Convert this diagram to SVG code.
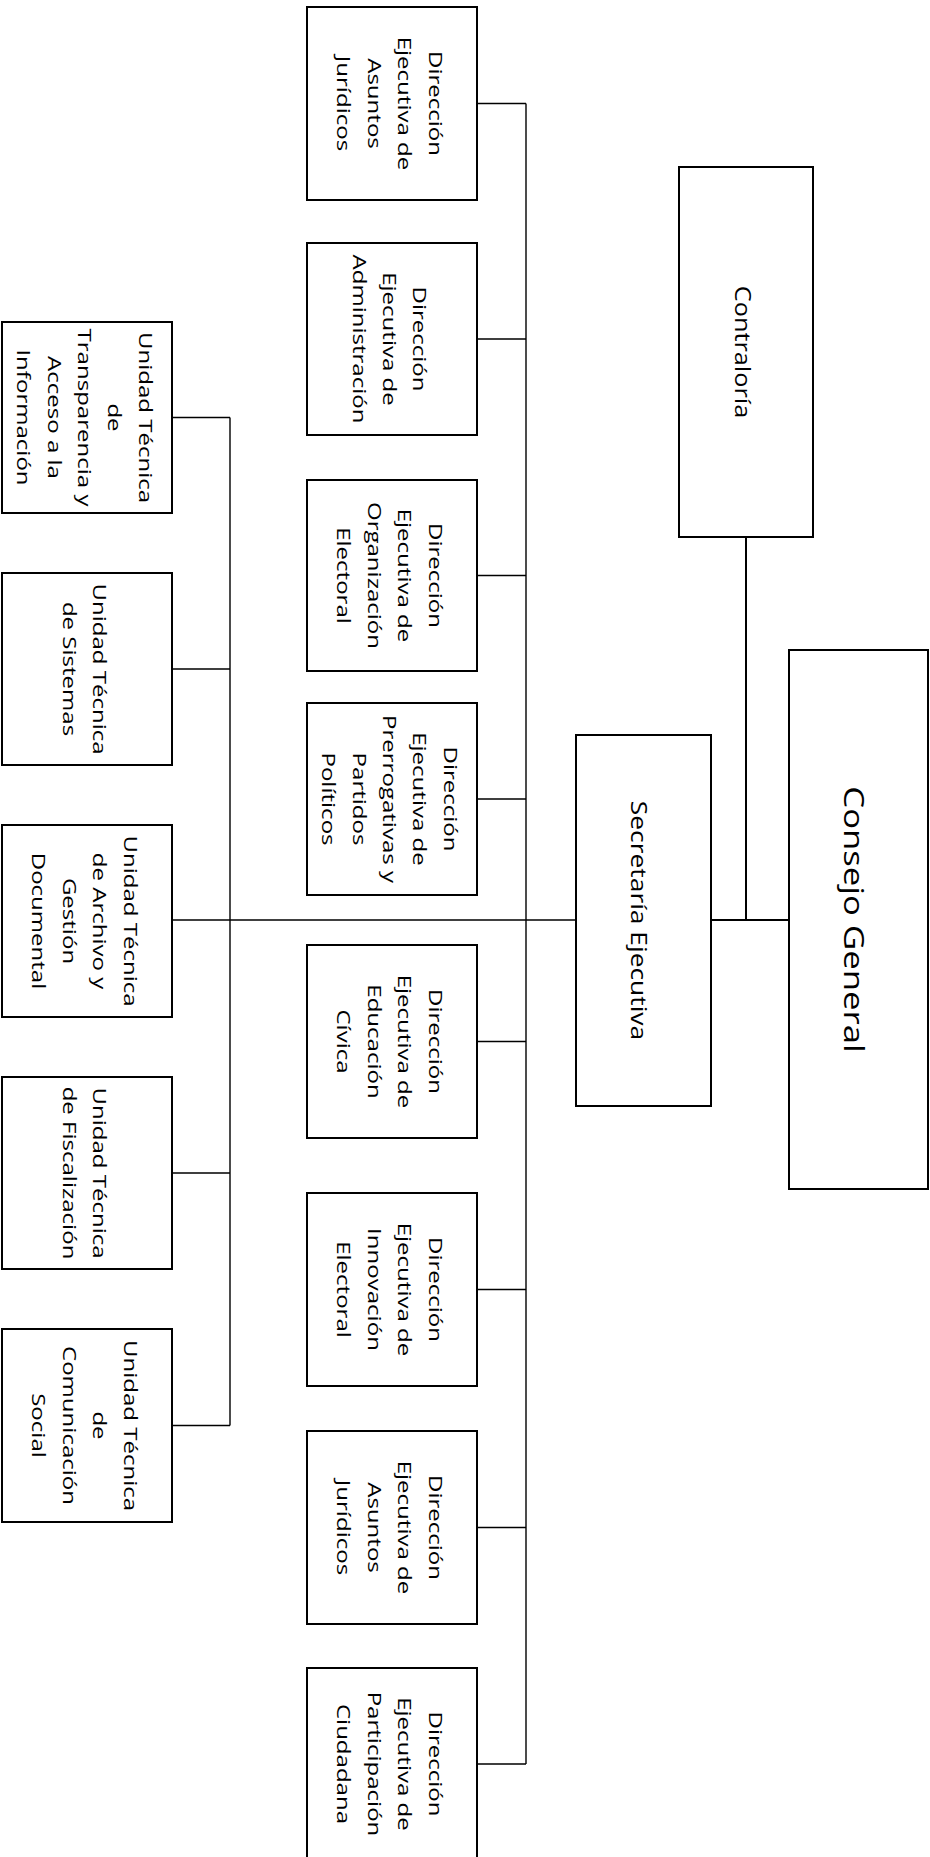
<svg xmlns="http://www.w3.org/2000/svg" width="930" height="1857" viewBox="0 0 930 1857">
<style>
.box{fill:#fff;stroke:#000;stroke-width:2}
.t{font-family:"Open Sans","DejaVu Sans",sans-serif;font-size:18.5px;text-anchor:middle;fill:#000}
.c{fill:none;stroke:#000;stroke-width:1.4}
.c2{fill:none;stroke:#000;stroke-width:2}
</style>
<rect width="930" height="1857" fill="#fff"/>
<g id="connectors">
<path class="c2" d="M711 920H789M746 537V920"/>
<path class="c" d="M172 920H576"/>
<path class="c" d="M526 103.5V1764M477 103.5H526M477 339H526M477 575.5H526M477 799H526M477 1041.5H526M477 1289.5H526M477 1527.5H526M477 1764H526"/>
<path class="c" d="M230 417.5V1425.5M172 417.5H230M172 669H230M172 1173H230M172 1425.5H230"/>
</g>
<g id="consejo-general">
<rect class="box" x="789" y="650" width="139" height="539"/>
<text class="t" style="font-size:28px" transform="translate(858.5,919.5) rotate(90) scale(1.24,1)"><tspan x="0" y="14">Consejo General</tspan></text>
</g>
<g id="contraloria">
<rect class="box" x="679" y="167" width="134" height="370"/>
<text class="t" style="font-size:22px" transform="translate(746,352) rotate(90) scale(1.15,1)"><tspan x="0" y="11">Contraloría</tspan></text>
</g>
<g id="secretaria-ejecutiva">
<rect class="box" x="576" y="735" width="135" height="371"/>
<text class="t" style="font-size:22px" transform="translate(643.5,920.5) rotate(90) scale(1.2,1)"><tspan x="0" y="12">Secretaría Ejecutiva</tspan></text>
</g>
<g id="de-asuntos-juridicos-1">
<rect class="box" x="307" y="7" width="170" height="193"/>
<text class="t" transform="translate(392,103.5) rotate(90) scale(1.3,1)"><tspan x="0" y="-36.75">Dirección</tspan><tspan x="0" y="-6.25">Ejecutiva de</tspan><tspan x="0" y="24.25">Asuntos</tspan><tspan x="0" y="54.75">Jurídicos</tspan></text>
</g>
<g id="de-administracion">
<rect class="box" x="307" y="243" width="170" height="192"/>
<text class="t" transform="translate(392,339) rotate(90) scale(1.3,1)"><tspan x="0" y="-21.5">Dirección</tspan><tspan x="0" y="9">Ejecutiva de</tspan><tspan x="0" y="39.5">Administración</tspan></text>
</g>
<g id="de-organizacion-electoral">
<rect class="box" x="307" y="480" width="170" height="191"/>
<text class="t" transform="translate(392,575.5) rotate(90) scale(1.3,1)"><tspan x="0" y="-36.75">Dirección</tspan><tspan x="0" y="-6.25">Ejecutiva de</tspan><tspan x="0" y="24.25">Organización</tspan><tspan x="0" y="54.75">Electoral</tspan></text>
</g>
<g id="de-prerrogativas">
<rect class="box" x="307" y="703" width="170" height="192"/>
<text class="t" transform="translate(392,799) rotate(90) scale(1.3,1)"><tspan x="0" y="-52">Dirección</tspan><tspan x="0" y="-21.5">Ejecutiva de</tspan><tspan x="0" y="9">Prerrogativas y</tspan><tspan x="0" y="39.5">Partidos</tspan><tspan x="0" y="70">Políticos</tspan></text>
</g>
<g id="de-educacion-civica">
<rect class="box" x="307" y="945" width="170" height="193"/>
<text class="t" transform="translate(392,1041.5) rotate(90) scale(1.3,1)"><tspan x="0" y="-36.75">Dirección</tspan><tspan x="0" y="-6.25">Ejecutiva de</tspan><tspan x="0" y="24.25">Educación</tspan><tspan x="0" y="54.75">Cívica</tspan></text>
</g>
<g id="de-innovacion-electoral">
<rect class="box" x="307" y="1193" width="170" height="193"/>
<text class="t" transform="translate(392,1289.5) rotate(90) scale(1.3,1)"><tspan x="0" y="-36.75">Dirección</tspan><tspan x="0" y="-6.25">Ejecutiva de</tspan><tspan x="0" y="24.25">Innovación</tspan><tspan x="0" y="54.75">Electoral</tspan></text>
</g>
<g id="de-asuntos-juridicos-2">
<rect class="box" x="307" y="1431" width="170" height="193"/>
<text class="t" transform="translate(392,1527.5) rotate(90) scale(1.3,1)"><tspan x="0" y="-36.75">Dirección</tspan><tspan x="0" y="-6.25">Ejecutiva de</tspan><tspan x="0" y="24.25">Asuntos</tspan><tspan x="0" y="54.75">Jurídicos</tspan></text>
</g>
<g id="de-participacion-ciudadana">
<rect class="box" x="307" y="1668" width="170" height="192"/>
<text class="t" transform="translate(392,1764) rotate(90) scale(1.3,1)"><tspan x="0" y="-36.75">Dirección</tspan><tspan x="0" y="-6.25">Ejecutiva de</tspan><tspan x="0" y="24.25">Participación</tspan><tspan x="0" y="54.75">Ciudadana</tspan></text>
</g>
<g id="ut-transparencia">
<rect class="box" x="2" y="322" width="170" height="191"/>
<text class="t" transform="translate(87,417.5) rotate(90) scale(1.3,1)"><tspan x="0" y="-52">Unidad Técnica</tspan><tspan x="0" y="-21.5">de</tspan><tspan x="0" y="9">Transparencia y</tspan><tspan x="0" y="39.5">Acceso a la</tspan><tspan x="0" y="70">Información</tspan></text>
</g>
<g id="ut-sistemas">
<rect class="box" x="2" y="573" width="170" height="192"/>
<text class="t" transform="translate(87,669) rotate(90) scale(1.3,1)"><tspan x="0" y="-6.25">Unidad Técnica</tspan><tspan x="0" y="24.25">de Sistemas</tspan></text>
</g>
<g id="ut-archivo">
<rect class="box" x="2" y="825" width="170" height="192"/>
<text class="t" transform="translate(87,921) rotate(90) scale(1.3,1)"><tspan x="0" y="-36.75">Unidad Técnica</tspan><tspan x="0" y="-6.25">de Archivo y</tspan><tspan x="0" y="24.25">Gestión</tspan><tspan x="0" y="54.75">Documental</tspan></text>
</g>
<g id="ut-fiscalizacion">
<rect class="box" x="2" y="1077" width="170" height="192"/>
<text class="t" transform="translate(87,1173) rotate(90) scale(1.3,1)"><tspan x="0" y="-6.25">Unidad Técnica</tspan><tspan x="0" y="24.25">de Fiscalización</tspan></text>
</g>
<g id="ut-comunicacion-social">
<rect class="box" x="2" y="1329" width="170" height="193"/>
<text class="t" transform="translate(87,1425.5) rotate(90) scale(1.3,1)"><tspan x="0" y="-36.75">Unidad Técnica</tspan><tspan x="0" y="-6.25">de</tspan><tspan x="0" y="24.25">Comunicación</tspan><tspan x="0" y="54.75">Social</tspan></text>
</g>
</svg>
